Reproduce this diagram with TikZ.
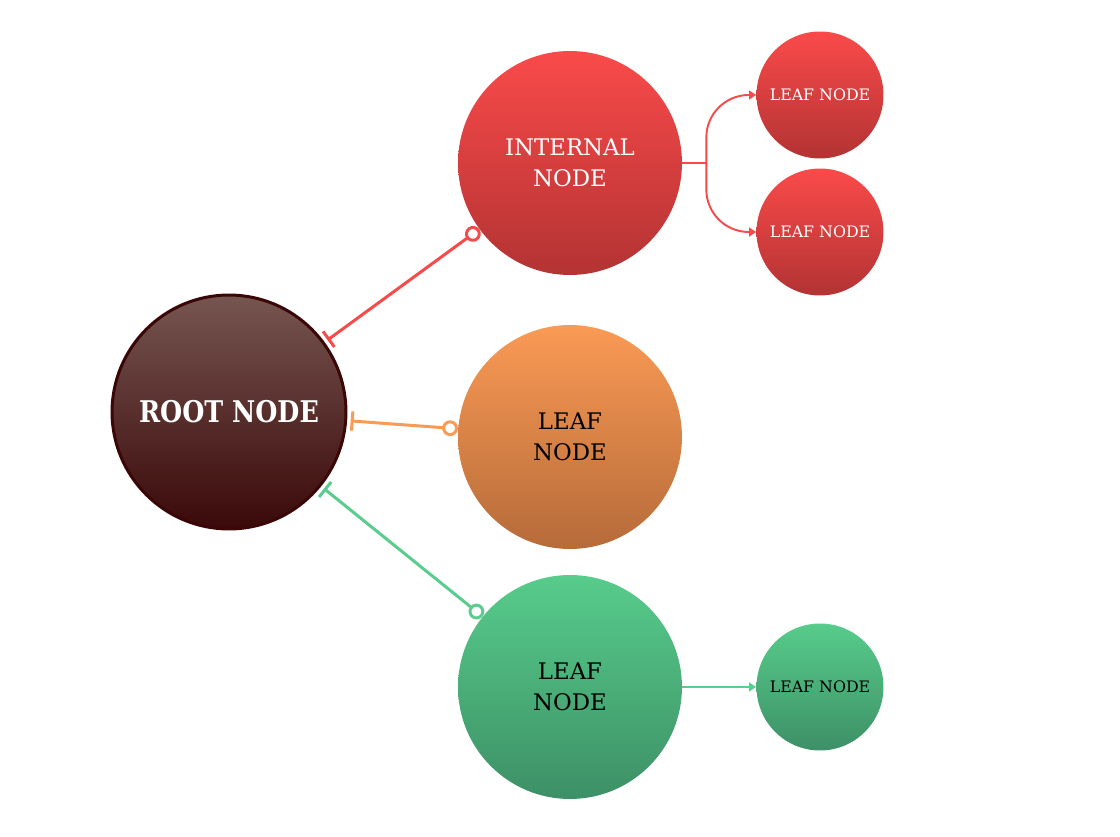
\documentclass[tikz,border=0pt]{standalone}
\usepackage{fontspec}
\setmainfont{DejaVu Serif}
\newfontfamily\rootfont{DejaVu Serif}[FakeStretch=0.85]
\usetikzlibrary{arrows.meta}

\definecolor{rootTop}{HTML}{765550}
\definecolor{rootBot}{HTML}{3A0909}
\definecolor{rootLine}{HTML}{3A0606}
\definecolor{redTop}{HTML}{FA4A4A}
\definecolor{redBot}{HTML}{B33333}
\definecolor{orTop}{HTML}{FA9A55}
\definecolor{orBot}{HTML}{B66B39}
\definecolor{grTop}{HTML}{57CC8B}
\definecolor{grBot}{HTML}{3D9066}
\definecolor{redEdge}{HTML}{F74B4B}
\definecolor{orEdge}{HTML}{F99A55}
\definecolor{grEdge}{HTML}{5ACD8E}

\begin{document}
\begin{tikzpicture}[x=0.02cm, y=-0.02cm,
  bignode/.style={circle, minimum size=4.48cm, inner sep=0pt, align=center, font=\fontsize{13}{17.6}\selectfont},
  smallnode/.style={circle, minimum size=2.54cm, inner sep=0pt, font=\fontsize{9}{11}\selectfont},
  link/.style={line width=1.7pt, {Bar[width=11pt,line width=1.7pt]}-{Circle[fill=white,length=9pt,line width=1.7pt]}, shorten <=2pt},
  stem/.style={line width=1.1pt},
  twig/.style={line width=1.1pt, -{Triangle[length=4pt,width=5pt]}}]
\useasboundingbox (0,0) rectangle (1120,837);

\node[bignode, top color=rootTop, bottom color=rootBot, draw=rootLine, line width=1.7pt, minimum size=4.68cm, text=white, font=\rootfont\bfseries\fontsize{17}{20}\selectfont] (root) at (229,412) {ROOT NODE};

\node[bignode, top color=redTop, bottom color=redBot, text=white] (internal) at (570,163) {INTERNAL\\NODE};
\node[bignode, top color=orTop, bottom color=orBot] (orange) at (570,437) {LEAF\\NODE};
\node[bignode, top color=grTop, bottom color=grBot] (green) at (570,687) {LEAF\\NODE};

\node[smallnode, top color=redTop, bottom color=redBot, text=white] (leafa) at (820,95) {LEAF NODE};
\node[smallnode, top color=redTop, bottom color=redBot, text=white] (leafb) at (820,232) {LEAF NODE};
\node[smallnode, top color=grTop, bottom color=grBot] (leafc) at (820,687) {LEAF NODE};

\draw[link, redEdge] (root) -- (internal);
\draw[link, orEdge] (root) -- (orange);
\draw[link, grEdge] (root) -- (green);

% fork to the two red leaves
\coordinate (fork) at ([xshift=0.48cm]internal.east);
\draw[stem, redEdge] (internal.east) -- (fork);
\draw[twig, redEdge, rounded corners=0.85cm] (fork) |- (leafa);
\draw[twig, redEdge, rounded corners=0.85cm] (fork) |- (leafb);

\draw[twig, grEdge] (green) -- (leafc);
\end{tikzpicture}
\end{document}
